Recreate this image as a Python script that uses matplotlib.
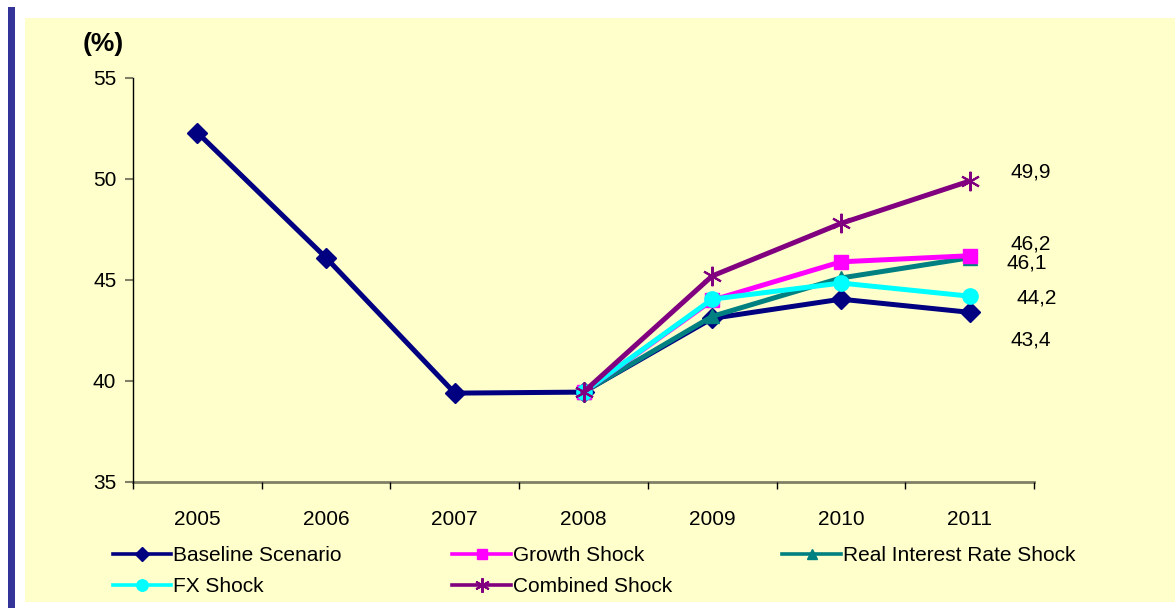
import matplotlib
matplotlib.use("Agg")
import matplotlib.pyplot as plt
from matplotlib.patches import Rectangle
from matplotlib.lines import Line2D

years = ["2005", "2006", "2007", "2008", "2009", "2010", "2011"]
baseline = [52.3, 46.1, 39.4, 39.45, 43.1, 44.05, 43.4]
growth = [None, None, None, 39.45, 44.0, 45.9, 46.2]
real_rate = [None, None, None, 39.45, 43.2, 45.1, 46.1]
fx = [None, None, None, 39.45, 44.05, 44.85, 44.2]
combined = [None, None, None, 39.45, 45.2, 47.8, 49.9]

end_labels = ["43,4", "46,2", "46,1", "44,2", "49,9"]
yticks = [35, 40, 45, 50, 55]

plt.rcParams['font.family'] = ['Liberation Sans', 'DejaVu Sans']

W, H = 1175, 608
FS = 15
fig = plt.figure(figsize=(W / 100, H / 100), dpi=100)
fig.patch.set_facecolor("white")

# decorative panel and side bar
fig.patches.append(Rectangle((25 / W, (608 - 602) / H), (W - 25) / W, (602 - 18) / H,
                             transform=fig.transFigure, facecolor="#FFFFCC", edgecolor="none", zorder=-10))
fig.patches.append(Rectangle((8 / W, 0), 7 / W, (608 - 7) / H,
                             transform=fig.transFigure, facecolor="#333399", edgecolor="none", zorder=-10))

ax = fig.add_axes([133 / W, (608 - 482) / H, (1034 - 133) / W, (482 - 78) / H])
ax.set_facecolor("none")
ax.set_zorder(5)

x = list(range(len(years)))

def seg(vals):
    xs = [i for i, v in zip(x, vals) if v is not None]
    ys = [v for v in vals if v is not None]
    return xs, ys

lw = 3.6
series = [
    ("Baseline Scenario", baseline, "#000080", "D", 10, 1),
    ("Growth Shock", growth, "#FF00FF", "s", 10, 1),
    ("Real Interest Rate Shock", real_rate, "#008080", "^", 10, 1),
    ("FX Shock", fx, "#00FFFF", "o", 11, 1),
    ("Combined Shock", combined, "#800080", (6, 2, 0), 14, 1.5),
]

handles = {}
order_z = {"Baseline Scenario": 2, "Real Interest Rate Shock": 3, "Growth Shock": 4, "FX Shock": 5, "Combined Shock": 6}
for name, vals, col, mk, ms, mew in series:
    xs, ys = seg(vals)
    ax.plot(xs, ys, color=col, lw=lw, marker=mk, markersize=ms,
            markeredgecolor=col, markerfacecolor=col, markeredgewidth=mew,
            label=name, zorder=order_z[name], clip_on=False)
    handles[name] = Line2D([], [], color=col, lw=2.6, marker=mk, markersize=ms * 0.75,
                           markeredgecolor=col, markerfacecolor=col, markeredgewidth=mew)

# end labels
offsets = {
    "Baseline Scenario": (41, -28),
    "Growth Shock": (41, 12),
    "Real Interest Rate Shock": (37, -5),
    "FX Shock": (47, -2),
    "Combined Shock": (41, 9),
}
for (name, vals, col, mk, ms, mew), lab in zip(series, end_labels):
    dx, dy = offsets[name]
    ax.annotate(lab, (6, vals[-1]), xytext=(dx, dy), textcoords="offset pixels",
                ha="left", va="center", fontsize=FS, color="black")

ax.set_xlim(-0.5, 6.5)
ax.set_ylim(35, 55)
ax.set_yticks(yticks)
ax.set_yticklabels([str(v) for v in yticks])
ax.set_xticks(x)
ax.set_xticklabels(years)
ax.set_xticks([i - 0.5 for i in range(len(years) + 1)], minor=True)
ax.tick_params(axis="x", which="major", length=0, pad=20, labelsize=FS)
ax.tick_params(axis="x", which="minor", length=5, width=1, color="black", direction="out")
ax.tick_params(axis="y", which="major", length=6, width=1.5, color="#808066", direction="out",
               pad=6, labelsize=FS)

for s in ["top", "right"]:
    ax.spines[s].set_visible(False)
ax.spines["left"].set_color("black")
ax.spines["left"].set_linewidth(1)
ax.spines["bottom"].set_color("#808066")
ax.spines["bottom"].set_linewidth(2)
ax.spines["bottom"].set_zorder(1)

fig.text(83 / W, 1 - 44 / H, "(%)", fontsize=19, fontweight="bold", ha="left", va="center")

leg_order = ["Baseline Scenario", "FX Shock", "Growth Shock", "Combined Shock", "Real Interest Rate Shock"]
leg = fig.legend([handles[n] for n in leg_order], leg_order, ncol=3, loc="upper left",
                 bbox_to_anchor=(113 / W, 1 - 546 / H), frameon=False, fontsize=FS,
                 handlelength=2.8, handletextpad=0.1, columnspacing=5.3, borderpad=0,
                 labelspacing=0.6, borderaxespad=0)

fig.savefig("out.png", dpi=100)
